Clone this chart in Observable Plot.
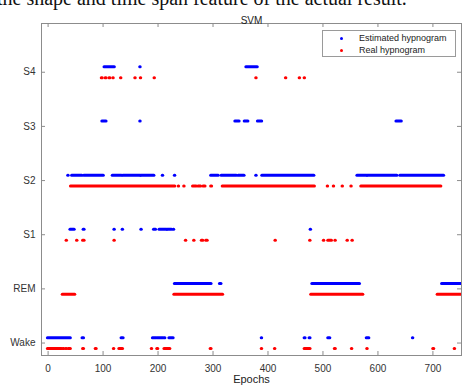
<!DOCTYPE html>
<html>
<head>
<meta charset="utf-8">
<script src="https://cdn.jsdelivr.net/npm/d3@7"></script>
<script src="https://cdn.jsdelivr.net/npm/@observablehq/plot@0.6"></script>
<style>
  html, body { margin: 0; padding: 0; background: #fff; }
  #wrap { position: relative; width: 462px; height: 387px; overflow: hidden; font-family: "Liberation Sans", Arial, sans-serif; }
  #paper { position: absolute; left: -3px; top: -12px; font-family: "Liberation Serif", "Times New Roman", serif; font-size: 20px; line-height: 20px; white-space: nowrap; color: #111; }
  #legend { position: absolute; left: 322px; top: 30px; width: 134px; height: 27px; border: 1px solid #9a9a9a; background: #fff; box-sizing: border-box; font-size: 9px; color: #222; }
  #legend .row { position: absolute; left: 0; height: 11px; line-height: 11px; white-space: nowrap; }
  #legend .dot { position: absolute; left: 17px; top: 4px; width: 3px; height: 3px; border-radius: 50%; }
  #legend .lab { position: absolute; left: 36px; top: 0; }
  #chart { position: absolute; left: 0; top: 0; }
</style>
</head>
<body>
<div id="wrap">
  <div id="chart"></div>
  <div id="paper">the shape and time span feature of the actual result.</div>
  <div id="legend"></div>
</div>
<script>
// Sleep stages (y categories), bottom to top
const stages = ["Wake", "REM", "S1", "S2", "S3", "S4"];
const xTicks = [0, 100, 200, 300, 400, 500, 600, 700];
const seriesNames = ["Estimated hypnogram", "Real hypnogram"];
const seriesColors = ["#0000ff", "#ff0000"];

// Runs of consecutive epochs: [stage, firstEpoch, lastEpoch]
const estimatedRuns = [
  ["Wake", 0, 41], ["Wake", 63, 65], ["Wake", 134, 137], ["Wake", 191, 197], ["Wake", 200, 209],
  ["Wake", 212, 213], ["Wake", 221, 228], ["Wake", 389, 389], ["Wake", 467, 468], ["Wake", 476, 477],
  ["Wake", 510, 513], ["Wake", 580, 584], ["Wake", 664, 664],
  ["REM", 231, 297], ["REM", 313, 315], ["REM", 481, 567], ["REM", 717, 760],
  ["S1", 41, 48], ["S1", 65, 66], ["S1", 121, 121], ["S1", 136, 136], ["S1", 170, 170],
  ["S1", 193, 196], ["S1", 203, 216], ["S1", 218, 225], ["S1", 229, 229], ["S1", 478, 478],
  ["S2", 37, 37], ["S2", 44, 62], ["S2", 66, 101], ["S2", 118, 134], ["S2", 137, 168], ["S2", 170, 193],
  ["S2", 209, 209], ["S2", 231, 231], ["S2", 297, 310], ["S2", 316, 343], ["S2", 347, 357],
  ["S2", 379, 379], ["S2", 390, 484], ["S2", 563, 580], ["S2", 582, 635], ["S2", 641, 720],
  ["S3", 99, 106], ["S3", 168, 168], ["S3", 341, 348], ["S3", 358, 364], ["S3", 382, 389], ["S3", 634, 643],
  ["S4", 103, 121], ["S4", 168, 168], ["S4", 361, 381]
];

const realRuns = [
  ["Wake", 0, 25], ["Wake", 28, 29], ["Wake", 33, 34], ["Wake", 38, 41], ["Wake", 64, 65], ["Wake", 87, 88],
  ["Wake", 120, 120], ["Wake", 130, 136], ["Wake", 189, 189], ["Wake", 199, 200], ["Wake", 212, 222],
  ["Wake", 296, 297], ["Wake", 389, 389], ["Wake", 413, 413], ["Wake", 467, 477], ["Wake", 522, 523],
  ["Wake", 553, 553], ["Wake", 581, 581], ["Wake", 701, 702], ["Wake", 740, 740],
  ["REM", 27, 49], ["REM", 230, 318], ["REM", 479, 573], ["REM", 709, 760],
  ["S1", 34, 34], ["S1", 53, 53], ["S1", 64, 66], ["S1", 121, 121], ["S1", 251, 251], ["S1", 266, 266],
  ["S1", 280, 282], ["S1", 288, 290], ["S1", 414, 414], ["S1", 477, 477], ["S1", 502, 502],
  ["S1", 510, 516], ["S1", 523, 523], ["S1", 545, 545], ["S1", 554, 554],
  ["S2", 42, 231], ["S2", 238, 238], ["S2", 248, 248], ["S2", 264, 270], ["S2", 274, 278], ["S2", 283, 286],
  ["S2", 297, 298], ["S2", 318, 485], ["S2", 509, 509], ["S2", 520, 520], ["S2", 536, 536],
  ["S2", 552, 552], ["S2", 570, 715],
  ["S4", 98, 99], ["S4", 105, 106], ["S4", 112, 113], ["S4", 119, 119], ["S4", 133, 133], ["S4", 159, 159],
  ["S4", 169, 169], ["S4", 194, 194], ["S4", 379, 379], ["S4", 433, 433], ["S4", 458, 458], ["S4", 467, 467]
];

const W = 462, H = 387;
const mT = 23, mB = 32, mL = 41, mR = 1;
const innerW = W - mL - mR, innerH = H - mT - mB;
const yIdx = s => stages.indexOf(s);
const tickColor = "#8c8c8c";

function runMark(runs, offset, color) {
  return Plot.ruleY(runs, {
    y: d => yIdx(d[0]) + offset,
    x1: d => d[1] - 0.4,
    x2: d => d[2] + 0.4,
    stroke: color,
    strokeWidth: 3,
    strokeLinecap: "round",
    clip: true
  });
}

const chart = Plot.plot({
  width: W,
  height: H,
  marginTop: mT,
  marginBottom: mB,
  marginLeft: mL,
  marginRight: mR,
  style: { fontFamily: "'Liberation Sans', Arial, sans-serif", fontSize: "10px", background: "transparent", color: "#333" },
  x: { domain: [-12, 752] },
  y: { domain: [-0.23, 5.9] },
  marks: [
    Plot.frame({ stroke: tickColor, strokeWidth: 1 }),
    Plot.tickX(xTicks, { x: d => d, insetTop: innerH - 4, stroke: tickColor }),
    Plot.tickX(xTicks, { x: d => d, insetBottom: innerH - 4, stroke: tickColor }),
    Plot.tickY(d3.range(stages.length), { y: d => d, insetRight: innerW - 4, stroke: tickColor }),
    Plot.tickY(d3.range(stages.length), { y: d => d, insetLeft: innerW - 4, stroke: tickColor }),
    Plot.axisY(d3.range(stages.length), { anchor: "left", tickFormat: i => stages[i], tickSize: 0, tickPadding: 6, label: null, fill: "#333" }),
    Plot.axisX(xTicks, { anchor: "bottom", tickSize: 0, tickPadding: 9, label: null, fill: "#333" }),
    runMark(realRuns, -0.1, seriesColors[1]),
    runMark(estimatedRuns, 0.1, seriesColors[0]),
    Plot.text(["SVM"], { frameAnchor: "top", dy: -7, fontSize: 10, fill: "#222", text: d => d }),
    Plot.text(["Epochs"], { frameAnchor: "bottom", dy: 27, fontSize: 11, fill: "#222", text: d => d })
  ]
});
document.getElementById("chart").appendChild(chart);

// Legend
const legend = document.getElementById("legend");
seriesNames.forEach((name, i) => {
  const row = document.createElement("div");
  row.className = "row";
  row.style.top = (2 + i * 12) + "px";
  row.style.width = "100%";
  const dot = document.createElement("span");
  dot.className = "dot";
  dot.style.background = seriesColors[i];
  const lab = document.createElement("span");
  lab.className = "lab";
  lab.textContent = name;
  row.appendChild(dot);
  row.appendChild(lab);
  legend.appendChild(row);
});
</script>
</body>
</html>
